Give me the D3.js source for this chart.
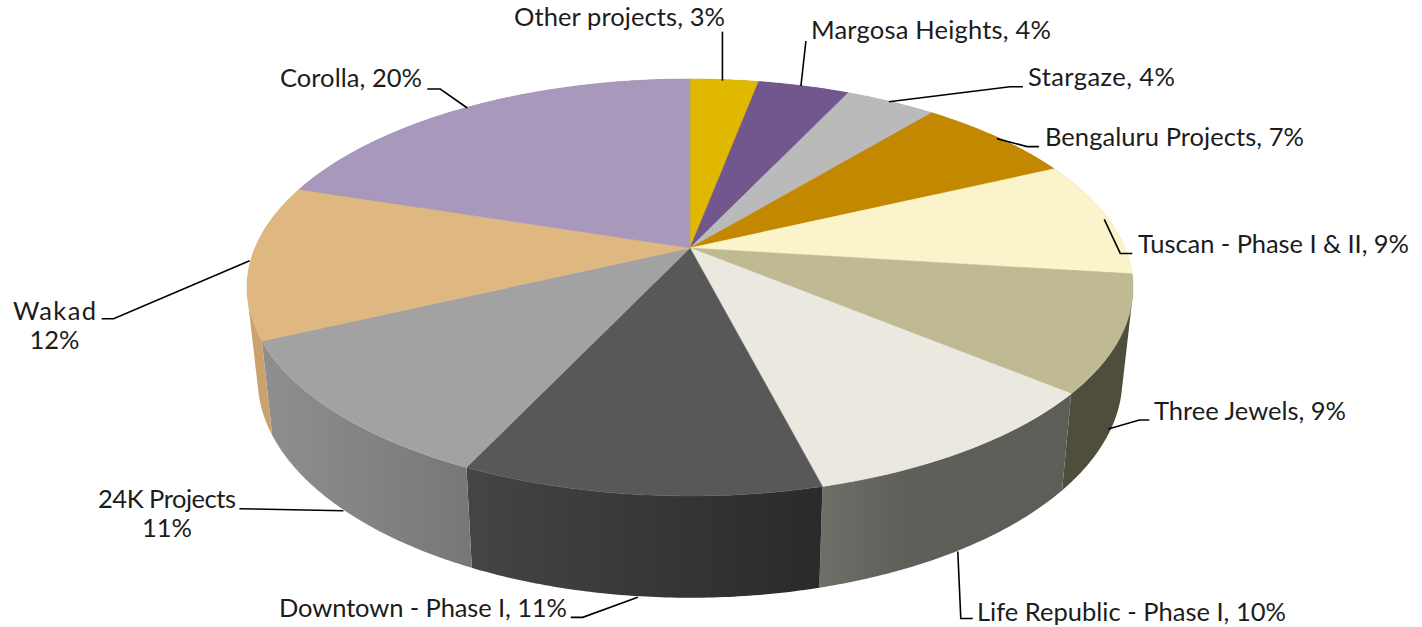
<!DOCTYPE html>
<html>
<head>
<meta charset="utf-8">
<title>Projects share</title>
<script src="https://cdn.jsdelivr.net/npm/d3@7"></script>
<style>
  html, body { margin: 0; padding: 0; background: #fff; }
  svg { display: block; }
  text { font-family: Lato, "Noto Sans", sans-serif; font-size: 25.5px; fill: #1c1c1c; }
</style>
</head>
<body>
<div id="chart"></div>
<script>
// Data, clockwise from 12 o'clock
const categories = ["Other projects", "Margosa Heights", "Stargaze", "Bengaluru Projects",
  "Tuscan - Phase I & II", "Three Jewels", "Life Republic - Phase I", "Downtown - Phase I",
  "24K Projects", "Wakad", "Corolla"];
const shares = [3, 4, 4, 7, 9, 9, 10, 11, 11, 12, 20];

// Colours of the top face and of the wall (gradient stops, left to right)
const topColors = ["#E0B800", "#72568E", "#BABABA", "#C28800", "#FBF3C9", "#C0BA94",
  "#EBE9DF", "#585858", "#A2A2A2", "#DFB780", "#A898BC"];
const wallColors = [["#A88A00", "#A88A00"], ["#55406A", "#55406A"], ["#8B8B8B", "#8B8B8B"],
  ["#916600", "#916600"], ["#BCB697", "#BCB697"], ["#4F4D3C", "#4F4D3C"],
  ["#6F6E68", "#5F605A", "#5D5E58", "#5D5E58"], ["#454545", "#2A2A2A"], ["#8F8F8F", "#777777"],
  ["#C9A26E", "#C9A26E"], ["#7E7290", "#7E7290"]];

// Label layout: leader points are offsets from the slice anchor
const labelLayout = [
  { x: 514, y: 26, w: 211, wall: false, leader: [[-2, 1], [-2, -48]] },
  { x: 811, y: 39, w: 240, wall: false, leader: [[-3, 0], [2, -45]] },
  { x: 1028, y: 86, w: 147, wall: false, leader: [[-2, 0], [119, -15], [132, -15]] },
  { x: 1045, y: 146, w: 259, wall: false, leader: [[-1, 1], [29, 9], [41, 9]] },
  { x: 1138, y: 253, w: 271, wall: false, leader: [[-3, 2], [13, 36], [25, 36]] },
  { x: 1154, y: 420, w: 192, wall: true, leader: [[-3, 1], [28, -8], [38, -8]] },
  { x: 977, y: 621, w: 309, wall: true, leader: [[-3, 2], [0, 69], [12, 69]] },
  { x: 279, y: 617, w: 288, wall: true, leader: [[-3, 1], [-58, 21], [-70, 21]] },
  { x: 98, y: 508, w: 138, wall: true, stacked: true, leader: [[0, 1], [-104, -1]] },
  { x: 13, y: 320, w: 83, wall: false, stacked: true, leader: [[-1, 0], [-137, 58], [-149, 58]] },
  { x: 280, y: 87, w: 142, wall: false, leader: [[-1, 1], [-28, -18], [-41, -18]] }
];

const width = 1422, height = 627;
const perspective = 0.1894;

const x = d3.scaleLinear().domain([-1, 1]).range([255, 1125]);
const y = d3.scaleLinear().domain([-1, 1]).range([47, 449]);

// Point on the rim of the top face
function rim(angle) {
  const u = Math.sin(angle), v = -Math.cos(angle);
  const w = 1 - perspective * v;
  return [x(u / w), y(v / w)];
}

// Same point on the rim of the bottom face
function lowerRim(angle) {
  const [px, py] = rim(angle);
  return [x(0) + (px - x(0)) * 0.976, py * 1.05 + 77];
}

function arcPoints(fn, a0, a1) {
  const n = Math.max(2, Math.ceil((a1 - a0) / 0.01));
  return d3.range(n + 1).map(i => fn(a0 + (a1 - a0) * i / n));
}

const svg = d3.select("#chart").append("svg")
  .attr("width", width)
  .attr("height", height);

const slices = d3.pie().sort(null).startAngle(0).endAngle(2 * Math.PI)(shares);
const line = d3.line();
const defs = svg.append("defs");

// Walls: small quads with the same winding, so the silhouette at the sides is filled
slices.forEach((s, i) => {
  const upper = arcPoints(rim, s.startAngle, s.endAngle);
  const lower = arcPoints(lowerRim, s.startAngle, s.endAngle);
  const quads = d3.range(upper.length - 1).map(k => {
    const q = [upper[k], upper[k + 1], lower[k + 1], lower[k]];
    return d3.polygonArea(q) < 0 ? q.reverse() : q;
  });
  const ext = d3.extent(upper.concat(lower), p => p[0]);
  const grad = defs.append("linearGradient")
    .attr("id", "wall" + i)
    .attr("gradientUnits", "userSpaceOnUse")
    .attr("x1", ext[0]).attr("x2", ext[1])
    .attr("y1", 0).attr("y2", 0);
  wallColors[i].forEach((c, k) => {
    grad.append("stop").attr("offset", k / (wallColors[i].length - 1)).attr("stop-color", c);
  });
  svg.append("path")
    .attr("d", quads.map(q => line(q) + "Z").join(""))
    .attr("fill", `url(#wall${i})`);
});

// Top face
svg.append("g").selectAll("path")
  .data(slices)
  .enter()
  .append("path")
  .attr("d", s => line([[x(0), y(0)]].concat(arcPoints(rim, s.startAngle, s.endAngle))) + "Z")
  .attr("fill", (s, i) => topColors[i])
  .attr("stroke", (s, i) => topColors[i])
  .attr("stroke-width", 0.5);

// Leader lines and labels
slices.forEach((s, i) => {
  const layout = labelLayout[i];
  const mid = (s.startAngle + s.endAngle) / 2;
  const anchor = layout.wall ? lowerRim(mid) : rim(mid);
  svg.append("path")
    .attr("d", line(layout.leader.map(d => [anchor[0] + d[0], anchor[1] + d[1]])))
    .attr("fill", "none")
    .attr("stroke", "#000")
    .attr("stroke-width", 1.6);

  if (layout.stacked) {
    svg.append("text")
      .attr("x", layout.x).attr("y", layout.y)
      .attr("textLength", layout.w)
      .text(categories[i]);
    svg.append("text")
      .attr("x", layout.x + layout.w / 2).attr("y", layout.y + 29)
      .attr("text-anchor", "middle")
      .text(shares[i] + "%");
  } else {
    svg.append("text")
      .attr("x", layout.x).attr("y", layout.y)
      .attr("textLength", layout.w)
      .text(`${categories[i]}, ${shares[i]}%`);
  }
});
</script>
</body>
</html>
